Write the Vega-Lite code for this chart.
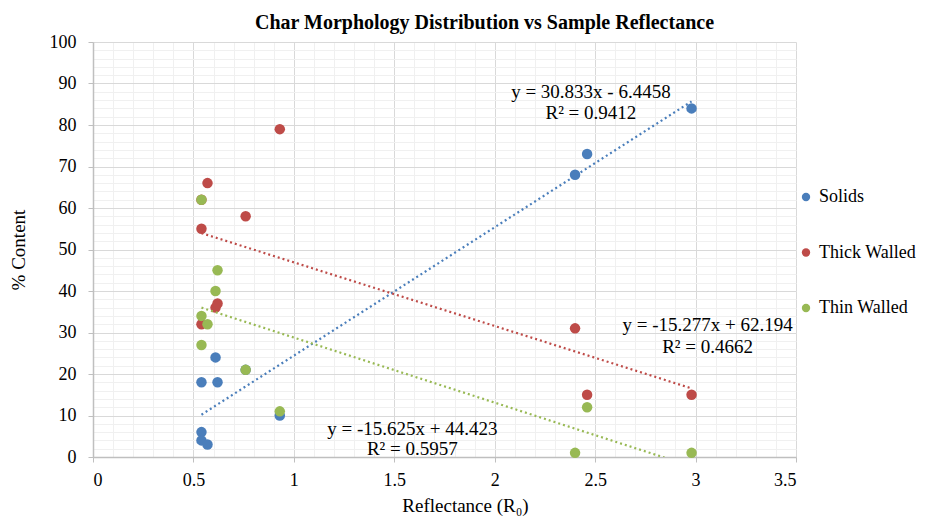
{
  "$schema": "https://vega.github.io/schema/vega-lite/v6.json",
  "width": 703,
  "height": 415,
  "autosize": {"type": "none"},
  "padding": {"left": 93, "top": 42, "right": 132, "bottom": 60},
  "background": "white",
  "title": {
    "text": "Char Morphology Distribution vs Sample Reflectance",
    "font": "Liberation Serif",
    "fontSize": 20,
    "fontWeight": "bold",
    "color": "#000000",
    "anchor": "middle",
    "dx": 40,
    "offset": 0
  },
  "config": {
    "font": "Liberation Serif",
    "view": {"stroke": null},
    "axis": {
      "labelFont": "Liberation Serif",
      "titleFont": "Liberation Serif",
      "labelColor": "#000000",
      "titleColor": "#000000",
      "titleFontWeight": "normal"
    }
  },
  "datasets": {
    "pts": [
      {"x": 0.54, "y": 18, "series": "Solids"},
      {"x": 0.54, "y": 6, "series": "Solids"},
      {"x": 0.54, "y": 4, "series": "Solids"},
      {"x": 0.57, "y": 3, "series": "Solids"},
      {"x": 0.61, "y": 24, "series": "Solids"},
      {"x": 0.62, "y": 18, "series": "Solids"},
      {"x": 0.76, "y": 21, "series": "Solids"},
      {"x": 0.93, "y": 10, "series": "Solids"},
      {"x": 2.40, "y": 68, "series": "Solids"},
      {"x": 2.46, "y": 73, "series": "Solids"},
      {"x": 2.98, "y": 84, "series": "Solids"},
      {"x": 0.54, "y": 55, "series": "Thick Walled"},
      {"x": 0.54, "y": 32, "series": "Thick Walled"},
      {"x": 0.54, "y": 62, "series": "Thick Walled"},
      {"x": 0.57, "y": 66, "series": "Thick Walled"},
      {"x": 0.61, "y": 36, "series": "Thick Walled"},
      {"x": 0.62, "y": 37, "series": "Thick Walled"},
      {"x": 0.76, "y": 58, "series": "Thick Walled"},
      {"x": 0.93, "y": 79, "series": "Thick Walled"},
      {"x": 2.40, "y": 31, "series": "Thick Walled"},
      {"x": 2.46, "y": 15, "series": "Thick Walled"},
      {"x": 2.98, "y": 15, "series": "Thick Walled"},
      {"x": 0.54, "y": 27, "series": "Thin Walled"},
      {"x": 0.54, "y": 62, "series": "Thin Walled"},
      {"x": 0.54, "y": 34, "series": "Thin Walled"},
      {"x": 0.57, "y": 32, "series": "Thin Walled"},
      {"x": 0.61, "y": 40, "series": "Thin Walled"},
      {"x": 0.62, "y": 45, "series": "Thin Walled"},
      {"x": 0.76, "y": 21, "series": "Thin Walled"},
      {"x": 0.93, "y": 11, "series": "Thin Walled"},
      {"x": 2.40, "y": 1, "series": "Thin Walled"},
      {"x": 2.46, "y": 12, "series": "Thin Walled"},
      {"x": 2.98, "y": 1, "series": "Thin Walled"}
    ],
    "labels": [
      {"x": 2.479, "y": 88.0, "text": "y = 30.833x - 6.4458"},
      {"x": 2.479, "y": 82.8, "text": "R² = 0.9412"},
      {"x": 3.06, "y": 31.8, "text": "y = -15.277x + 62.194"},
      {"x": 3.06, "y": 26.4, "text": "R² = 0.4662"},
      {"x": 1.59, "y": 6.8, "text": "y = -15.625x + 44.423"},
      {"x": 1.59, "y": 1.9, "text": "R² = 0.5957"}
    ]
  },
  "resolve": {"axis": {"x": "independent", "y": "independent"}},
  "layer": [
    {
      "data": {"name": "pts"},
      "mark": {"type": "point", "opacity": 0},
      "encoding": {
        "x": {
          "field": "x", "type": "quantitative",
          "scale": {"domain": [0, 3.5], "nice": false, "zero": false},
          "axis": {
            "orient": "bottom",
            "values": [0,0.1,0.2,0.3,0.4,0.5,0.6,0.7,0.8,0.9,1,1.1,1.2,1.3,1.4,1.5,1.6,1.7,1.8,1.9,2,2.1,2.2,2.3,2.4,2.5,2.6,2.7,2.8,2.9,3,3.1,3.2,3.3,3.4,3.5],
            "grid": true, "gridColor": "#f0f0f0", "gridWidth": 1,
            "labels": false, "ticks": false, "domain": false, "title": null
          }
        },
        "y": {
          "field": "y", "type": "quantitative",
          "scale": {"domain": [0, 100], "nice": false},
          "axis": {
            "orient": "left",
            "values": [0,2,4,6,8,10,12,14,16,18,20,22,24,26,28,30,32,34,36,38,40,42,44,46,48,50,52,54,56,58,60,62,64,66,68,70,72,74,76,78,80,82,84,86,88,90,92,94,96,98,100],
            "grid": true, "gridColor": "#f0f0f0", "gridWidth": 1,
            "labels": false, "ticks": false, "domain": false, "title": null
          }
        }
      }
    },
    {
      "layer": [
        {
          "data": {"name": "pts"},
          "mark": {"type": "circle", "size": 110, "opacity": 1},
          "encoding": {
            "x": {
              "field": "x", "type": "quantitative",
              "scale": {"domain": [0, 3.5], "nice": false, "zero": false},
              "axis": {
                "orient": "bottom",
                "values": [0, 0.5, 1, 1.5, 2, 2.5, 3, 3.5],
                "format": "~g",
                "grid": true, "gridColor": "#d9d9d9", "gridWidth": 1,
                "domainColor": "#bfbfbf", "domainWidth": 1.5,
                "tickColor": "#bfbfbf", "tickSize": 5, "tickWidth": 1,
                "labelFontSize": 18, "labelPadding": 9,
                "title": "Reflectance (R₀)",
                "titleFontSize": 19,
                "titleX": 372, "titleY": 48, "titleBaseline": "middle", "titleAlign": "center"
              }
            },
            "y": {
              "field": "y", "type": "quantitative",
              "scale": {"domain": [0, 100], "nice": false},
              "axis": {
                "orient": "left",
                "values": [0, 10, 20, 30, 40, 50, 60, 70, 80, 90, 100],
                "grid": true, "gridColor": "#d9d9d9", "gridWidth": 1,
                "domainColor": "#bfbfbf", "domainWidth": 1.5,
                "tickColor": "#bfbfbf", "tickSize": 5, "tickWidth": 1,
                "labelFontSize": 18, "labelPadding": 12,
                "title": "% Content",
                "titleFontSize": 19,
                "titleX": -75, "titleY": 207.5, "titleBaseline": "middle", "titleAlign": "center", "titleAngle": 270
              }
            },
            "color": {
              "field": "series", "type": "nominal",
              "scale": {"domain": ["Solids", "Thick Walled", "Thin Walled"], "range": ["#4a7ebb", "#be4b48", "#98b954"]},
              "legend": {
                "orient": "none", "legendX": 704, "legendY": 146,
                "title": null, "padding": 0,
                "labelFont": "Liberation Serif", "labelFontSize": 18, "labelColor": "#000000",
                "labelOffset": 4,
                "symbolType": "circle", "symbolSize": 70, "symbolStrokeWidth": 0,
                "rowPadding": 37.5
              }
            }
          }
        },
        {
          "data": {"name": "pts"},
          "transform": [{"regression": "y", "on": "x", "groupby": ["series"], "method": "linear"}],
          "mark": {"type": "line", "clip": true, "strokeWidth": 2.2, "strokeDash": [2, 3], "strokeCap": "butt"},
          "encoding": {
            "x": {"field": "x", "type": "quantitative"},
            "y": {"field": "y", "type": "quantitative"},
            "color": {"field": "series", "type": "nominal"}
          }
        },
        {
          "data": {"name": "labels"},
          "mark": {"type": "text", "font": "Liberation Serif", "fontSize": 19, "color": "#000000", "align": "center", "baseline": "middle"},
          "encoding": {
            "x": {"field": "x", "type": "quantitative"},
            "y": {"field": "y", "type": "quantitative"},
            "text": {"field": "text", "type": "nominal"}
          }
        }
      ]
    }
  ]
}
